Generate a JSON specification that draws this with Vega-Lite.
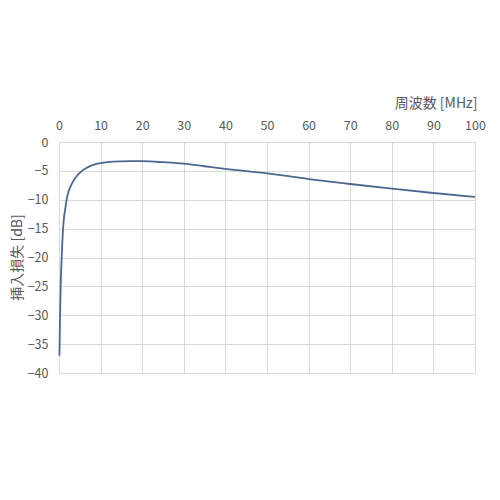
{
  "$schema": "https://vega.github.io/schema/vega-lite/v6.json",
  "autosize": "none",
  "width": 416,
  "height": 231,
  "padding": {"left": 59, "top": 142, "right": 25, "bottom": 127},
  "background": "white",
  "config": {
    "font": "Noto Sans CJK JP",
    "view": {"stroke": null},
    "axis": {
      "labelFont": "Noto Sans CJK JP",
      "titleFont": "Noto Sans CJK JP",
      "labelFontSize": 12.5,
      "titleFontSize": 14,
      "labelColor": "#595959",
      "titleColor": "#595959",
      "titleFontWeight": "normal",
      "gridColor": "#d9d9d9",
      "gridWidth": 1,
      "domain": false,
      "ticks": false
    }
  },
  "data": {
    "values": [
      {"f": 0.1, "loss": -37},
      {"f": 0.15, "loss": -35},
      {"f": 0.25, "loss": -30},
      {"f": 0.4, "loss": -25},
      {"f": 0.65, "loss": -20},
      {"f": 0.96, "loss": -15.2},
      {"f": 1.2, "loss": -13.1},
      {"f": 1.54, "loss": -11.4},
      {"f": 1.85, "loss": -9.9},
      {"f": 2.33, "loss": -8.5},
      {"f": 2.98, "loss": -7.4},
      {"f": 3.77, "loss": -6.35},
      {"f": 4.57, "loss": -5.66},
      {"f": 5.53, "loss": -5.0},
      {"f": 6.58, "loss": -4.5},
      {"f": 7.79, "loss": -4.1},
      {"f": 9, "loss": -3.8},
      {"f": 10.6, "loss": -3.58},
      {"f": 13, "loss": -3.4},
      {"f": 17, "loss": -3.3},
      {"f": 20, "loss": -3.32},
      {"f": 25, "loss": -3.5},
      {"f": 30, "loss": -3.75},
      {"f": 35, "loss": -4.2},
      {"f": 40, "loss": -4.67},
      {"f": 50, "loss": -5.43},
      {"f": 60, "loss": -6.41},
      {"f": 70, "loss": -7.27},
      {"f": 80, "loss": -8.08},
      {"f": 90, "loss": -8.83},
      {"f": 100, "loss": -9.52}
    ]
  },
  "mark": {"type": "line", "color": "#4d6890", "strokeWidth": 1.8, "interpolate": "monotone"},
  "encoding": {
    "x": {
      "field": "f",
      "type": "quantitative",
      "scale": {"domain": [0, 100], "nice": false},
      "axis": {
        "orient": "top",
        "values": [0, 10, 20, 30, 40, 50, 60, 70, 80, 90, 100],
        "labelPadding": 10,
        "title": "周波数 [MHz]",
        "titleAnchor": "end",
        "titleAlign": "right",
        "titleX": 418,
        "titleY": -39,
        "titleBaseline": "middle",
        "labelFlush": false
      }
    },
    "y": {
      "field": "loss",
      "type": "quantitative",
      "scale": {"domain": [-40, 0], "nice": false},
      "axis": {
        "values": [0, -5, -10, -15, -20, -25, -30, -35, -40],
        "labelPadding": 11,
        "title": "挿入損失 [dB]",
        "titleX": -42,
        "titleY": 115,
        "titleAlign": "center",
        "titleBaseline": "middle",
        "titleAngle": -90
      }
    }
  }
}
